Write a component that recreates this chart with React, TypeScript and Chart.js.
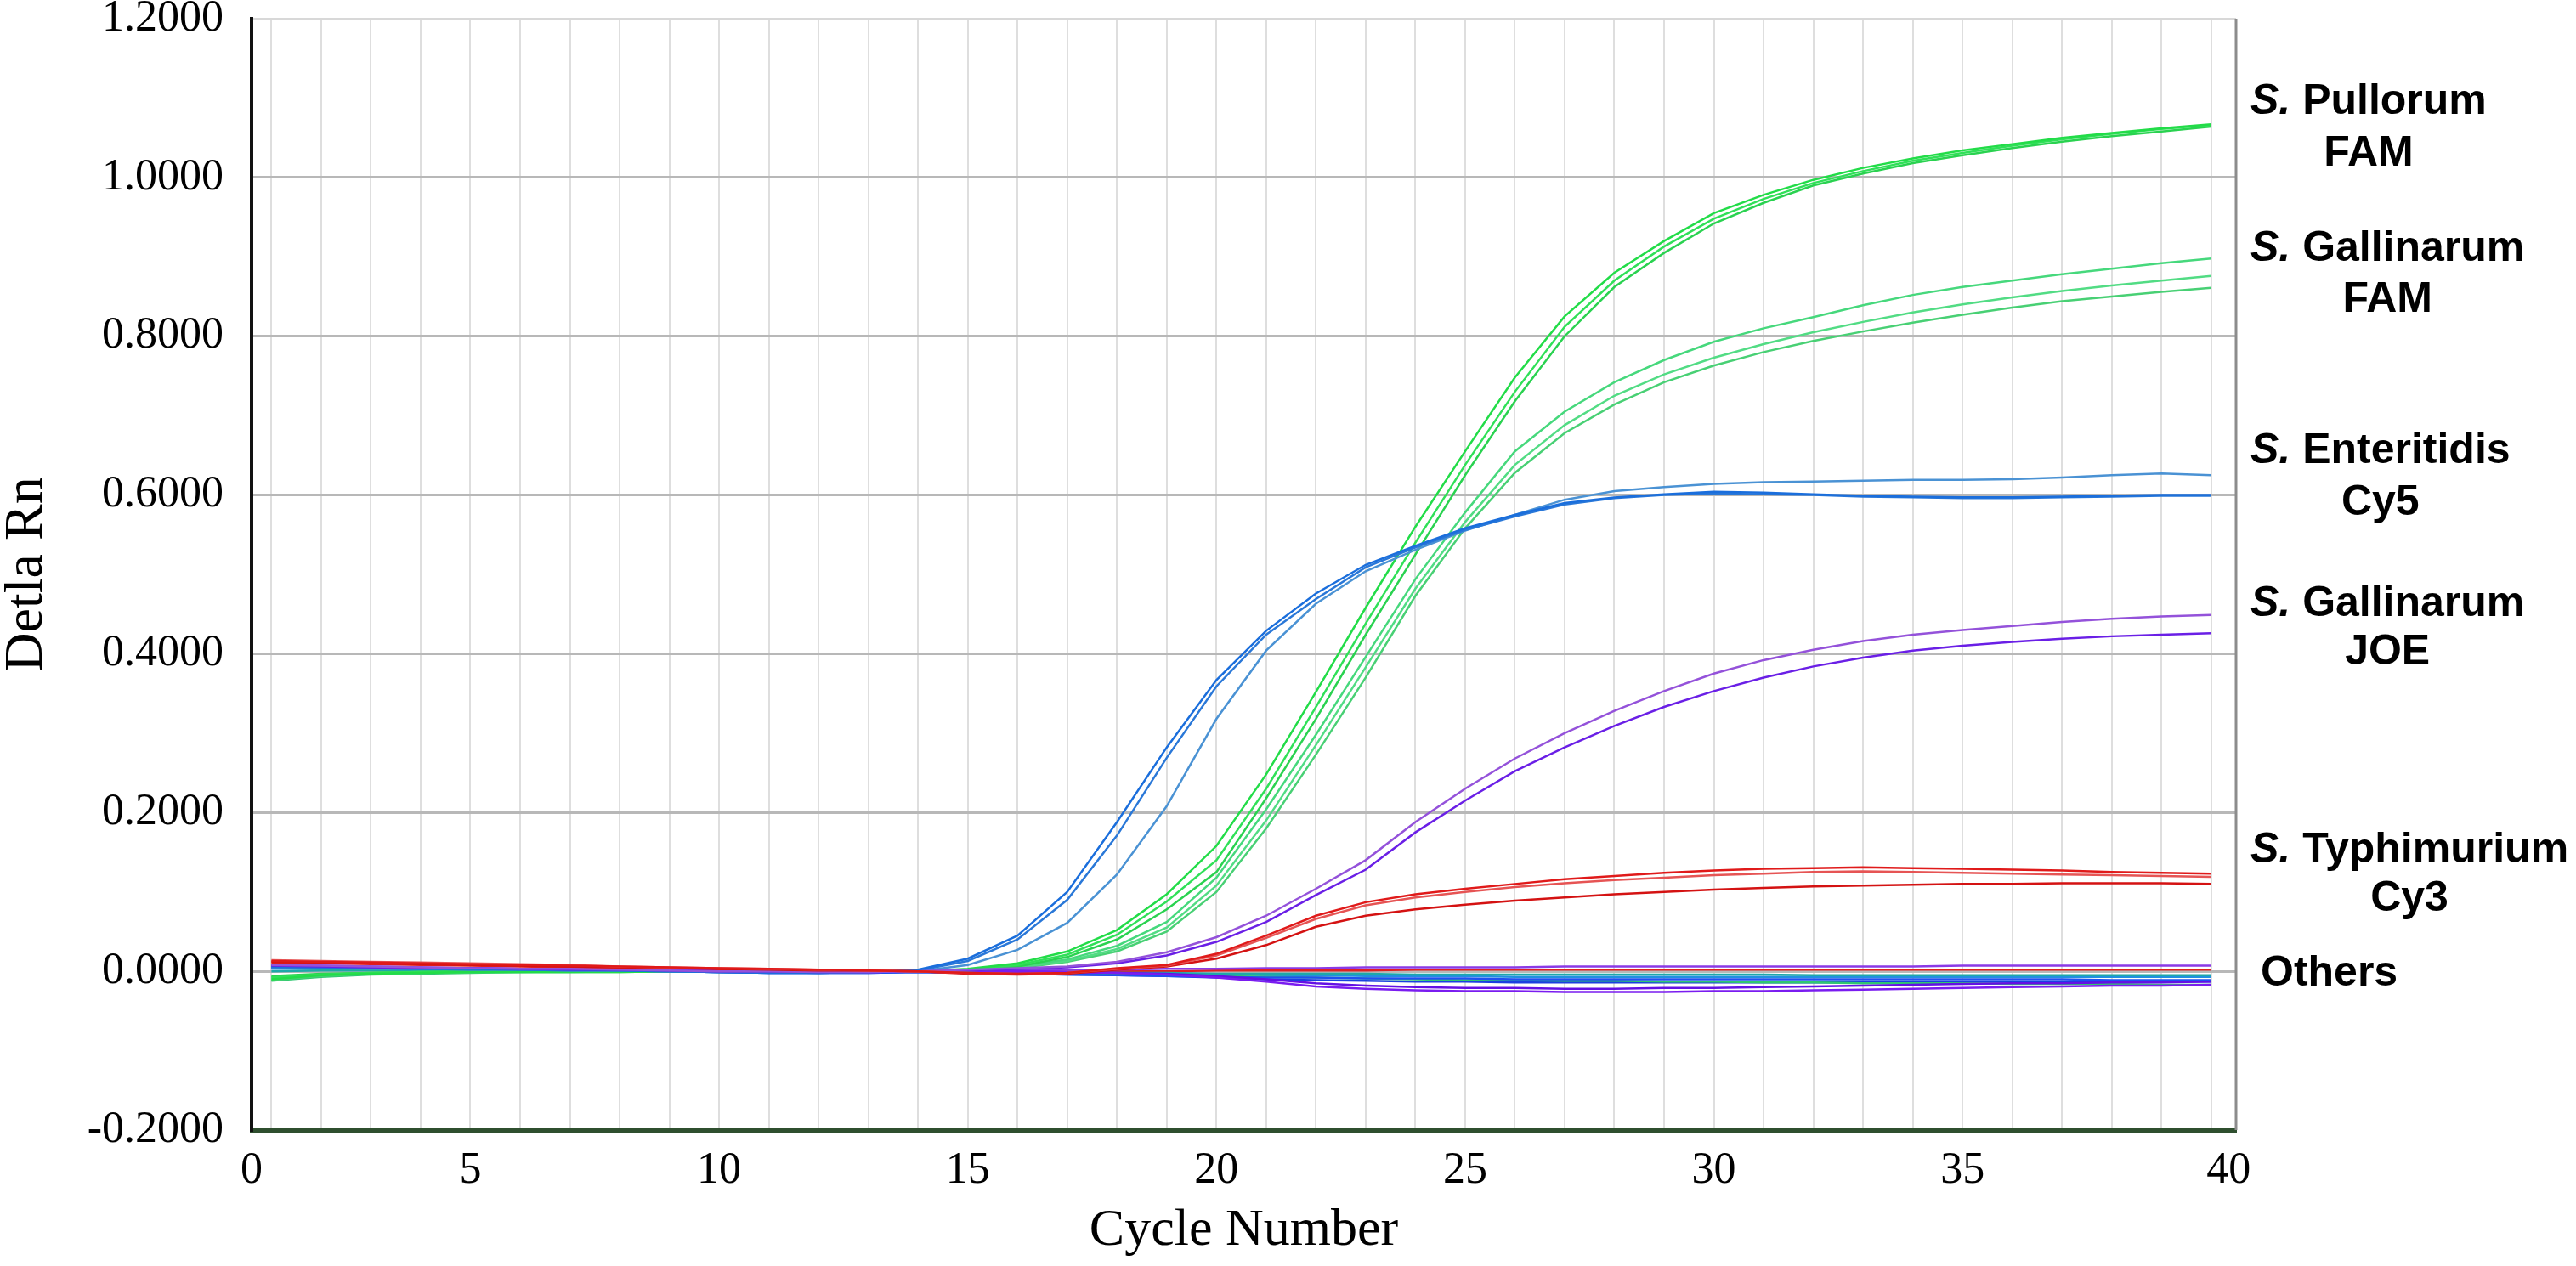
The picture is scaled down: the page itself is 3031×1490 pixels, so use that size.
import React, { useEffect, useRef } from 'react';
import { Chart, registerables } from 'chart.js';

Chart.register(...registerables);

// ---------- data ----------
const cycles = [1, 2, 3, 4, 5, 6, 7, 8, 9, 10, 11, 12, 13, 14, 15, 16, 17, 18, 19, 20,
  21, 22, 23, 24, 25, 26, 27, 28, 29, 30, 31, 32, 33, 34, 35, 36, 37, 38, 39, 40];

// x labels: "0" sits at the axis start, "40" just past the last cycle
const xLabelPos = [0.6, 5, 10, 15, 20, 25, 30, 35, 40.35];
const xLabelText = ['0', '5', '10', '15', '20', '25', '30', '35', '40'];

// S. Pullorum – FAM
const pullorum1 = [-0.010, -0.005, -0.003, -0.002, -0.001, -0.001, -0.001, -0.001, 0.000, 0.000, 0.000, 0.000, 0.000, 0.000, 0.003,
  0.010, 0.025, 0.052, 0.097, 0.158, 0.248, 0.352, 0.458, 0.560, 0.655, 0.748, 0.825, 0.880, 0.920, 0.955, 0.978, 0.997, 1.012, 1.024, 1.034, 1.042, 1.050, 1.056, 1.062, 1.067];
const pullorum2 = [-0.008, -0.004, -0.002, -0.001, -0.001, 0.000, 0.000, 0.000, 0.000, 0.000, 0.000, 0.000, 0.000, 0.000, 0.002,
  0.008, 0.021, 0.046, 0.088, 0.140, 0.230, 0.333, 0.438, 0.540, 0.638, 0.730, 0.812, 0.870, 0.913, 0.948, 0.973, 0.993, 1.008, 1.021, 1.031, 1.040, 1.048, 1.055, 1.061, 1.066];
const pullorum3 = [-0.006, -0.003, -0.002, -0.001, 0.000, 0.000, 0.000, 0.000, 0.000, 0.000, 0.000, 0.000, 0.000, 0.000, 0.002,
  0.006, 0.018, 0.040, 0.078, 0.125, 0.218, 0.318, 0.424, 0.525, 0.625, 0.718, 0.800, 0.862, 0.905, 0.942, 0.968, 0.990, 1.005, 1.018, 1.028, 1.037, 1.045, 1.052, 1.058, 1.064];

// S. Gallinarum – FAM
const gallFam1 = [-0.009, -0.005, -0.003, -0.002, -0.001, -0.001, -0.001, 0.000, 0.000, 0.000, 0.000, 0.000, 0.000, 0.000, 0.002, 0.006,
  0.015, 0.032, 0.062, 0.118, 0.204, 0.298, 0.396, 0.494, 0.578, 0.655, 0.705, 0.742, 0.770, 0.793, 0.810, 0.824, 0.839, 0.852, 0.862, 0.870, 0.878, 0.885, 0.892, 0.898];
const gallFam2 = [-0.007, -0.004, -0.002, -0.001, -0.001, 0.000, 0.000, 0.000, 0.000, 0.000, 0.000, 0.000, 0.000, 0.000, 0.002, 0.005,
  0.013, 0.028, 0.055, 0.108, 0.190, 0.285, 0.383, 0.482, 0.566, 0.638, 0.688, 0.725, 0.752, 0.773, 0.790, 0.805, 0.818, 0.830, 0.840, 0.849, 0.857, 0.864, 0.870, 0.876];
const gallFam3 = [-0.011, -0.006, -0.003, -0.002, -0.001, -0.001, 0.000, 0.000, 0.000, 0.000, 0.000, 0.000, 0.000, 0.000, 0.001, 0.004,
  0.012, 0.025, 0.050, 0.100, 0.180, 0.273, 0.370, 0.473, 0.558, 0.628, 0.678, 0.714, 0.742, 0.763, 0.780, 0.794, 0.806, 0.817, 0.827, 0.836, 0.844, 0.850, 0.856, 0.861];

// S. Enteritidis – Cy5
const enter1 = [0.006, 0.005, 0.004, 0.003, 0.003, 0.002, 0.002, 0.001, 0.000, -0.001, -0.002, -0.002, -0.001,
  0.002, 0.016, 0.045, 0.100, 0.188, 0.282, 0.367, 0.429, 0.476, 0.512, 0.536, 0.558, 0.575, 0.590, 0.597, 0.601, 0.604, 0.603, 0.601, 0.599, 0.598, 0.597, 0.597, 0.598, 0.599, 0.600, 0.600];
const enter2 = [0.005, 0.004, 0.004, 0.003, 0.002, 0.002, 0.001, 0.001, 0.000, -0.001, -0.001, -0.002, -0.001,
  0.001, 0.013, 0.040, 0.090, 0.171, 0.269, 0.359, 0.424, 0.469, 0.509, 0.534, 0.556, 0.573, 0.588, 0.596, 0.600, 0.602, 0.601, 0.600, 0.598, 0.597, 0.596, 0.596, 0.597, 0.598, 0.599, 0.599];
const enter3 = [0.004, 0.004, 0.003, 0.003, 0.002, 0.002, 0.001, 0.001, 0.000, 0.000, -0.001, -0.001, -0.001,
  0.000, 0.008, 0.027, 0.061, 0.122, 0.208, 0.318, 0.404, 0.463, 0.504, 0.531, 0.555, 0.575, 0.594, 0.605, 0.610, 0.614, 0.616, 0.617, 0.618, 0.619, 0.619, 0.620, 0.622, 0.625, 0.627, 0.625];

// S. Gallinarum – JOE
const gallJoe1 = [0.008, 0.007, 0.006, 0.005, 0.004, 0.003, 0.003, 0.002, 0.001, 0.000, 0.000, -0.001, -0.001, 0.000, 0.002, 0.004,
  0.006, 0.012, 0.024, 0.043, 0.070, 0.104, 0.140, 0.188, 0.230, 0.268, 0.300, 0.328, 0.353, 0.375, 0.392, 0.405, 0.416, 0.424, 0.430, 0.435, 0.440, 0.444, 0.447, 0.449];
const gallJoe2 = [0.007, 0.006, 0.005, 0.004, 0.004, 0.003, 0.002, 0.002, 0.001, 0.000, 0.000, -0.001, -0.001, 0.000, 0.001, 0.003,
  0.005, 0.010, 0.020, 0.037, 0.062, 0.096, 0.128, 0.175, 0.215, 0.252, 0.282, 0.309, 0.333, 0.353, 0.370, 0.384, 0.395, 0.404, 0.410, 0.415, 0.419, 0.422, 0.424, 0.426];

// S. Typhimurium – Cy3
const typhi1 = [0.013, 0.012, 0.011, 0.010, 0.009, 0.008, 0.007, 0.006, 0.005, 0.004, 0.003, 0.002, 0.001, 0.000, -0.002, -0.003, -0.002,
  0.004, 0.008, 0.022, 0.045, 0.070, 0.087, 0.097, 0.104, 0.110, 0.116, 0.120, 0.124, 0.127, 0.129, 0.130, 0.131, 0.130, 0.129, 0.128, 0.127, 0.125, 0.124, 0.123];
const typhi2 = [0.014, 0.013, 0.012, 0.011, 0.010, 0.009, 0.008, 0.006, 0.005, 0.004, 0.003, 0.002, 0.001, 0.000, -0.002, -0.003, -0.002,
  0.003, 0.007, 0.020, 0.042, 0.066, 0.083, 0.093, 0.100, 0.106, 0.111, 0.115, 0.118, 0.121, 0.123, 0.125, 0.126, 0.125, 0.124, 0.123, 0.122, 0.121, 0.120, 0.119];
const typhi3 = [0.012, 0.011, 0.010, 0.009, 0.008, 0.007, 0.006, 0.005, 0.004, 0.003, 0.002, 0.001, 0.001, 0.000, -0.003, -0.004, -0.003,
  0.002, 0.006, 0.016, 0.033, 0.056, 0.070, 0.078, 0.084, 0.089, 0.093, 0.097, 0.100, 0.103, 0.105, 0.107, 0.108, 0.109, 0.110, 0.110, 0.111, 0.111, 0.111, 0.110];

// Others (negative samples)
const other1 = [0.008, 0.007, 0.006, 0.005, 0.004, 0.003, 0.002, 0.002, 0.001, 0.000, -0.001, -0.001, -0.001, 0.000,
  0.000, 0.000, -0.001, -0.002, -0.004, -0.008, -0.013, -0.019, -0.022, -0.024, -0.025, -0.025, -0.026, -0.026, -0.026, -0.025, -0.025, -0.024, -0.023, -0.022, -0.021, -0.020, -0.019, -0.018, -0.018, -0.017];
const other2 = [0.006, 0.005, 0.005, 0.004, 0.003, 0.003, 0.002, 0.001, 0.001, 0.000, -0.001, -0.001, -0.001, 0.000,
  0.000, -0.001, -0.001, -0.002, -0.003, -0.006, -0.010, -0.015, -0.018, -0.020, -0.021, -0.021, -0.022, -0.022, -0.021, -0.021, -0.020, -0.019, -0.018, -0.017, -0.016, -0.015, -0.015, -0.014, -0.014, -0.013];
const other3 = [0.007, 0.006, 0.005, 0.004, 0.004, 0.003, 0.002, 0.002, 0.001, 0.000, 0.000, -0.001, -0.001, 0.000,
  0.001, 0.001, 0.002, 0.002, 0.003, 0.003, 0.004, 0.004, 0.005, 0.005, 0.005, 0.005, 0.006, 0.006, 0.006, 0.006, 0.006, 0.006, 0.006, 0.006, 0.007, 0.007, 0.007, 0.007, 0.007, 0.007];
const other4 = [0.005, 0.004, 0.004, 0.003, 0.003, 0.002, 0.001, 0.001, 0.000, -0.001, -0.002, -0.002, -0.002, -0.001,
  -0.002, -0.003, -0.004, -0.005, -0.006, -0.007, -0.008, -0.008, -0.009, -0.009, -0.009, -0.010, -0.010, -0.010, -0.010, -0.010, -0.010, -0.010, -0.010, -0.010, -0.010, -0.010, -0.010, -0.011, -0.011, -0.011];
const other5 = [0.000, 0.001, 0.001, 0.001, 0.001, 0.001, 0.000, 0.000, 0.000, -0.001, -0.001, -0.001, -0.001, 0.000,
  -0.001, -0.001, -0.002, -0.002, -0.002, -0.003, -0.003, -0.003, -0.003, -0.004, -0.004, -0.004, -0.004, -0.004, -0.004, -0.004, -0.004, -0.005, -0.005, -0.005, -0.005, -0.005, -0.005, -0.005, -0.005, -0.005];
const other6 = [-0.012, -0.007, -0.004, -0.003, -0.002, -0.001, -0.001, -0.001, 0.000, 0.000, -0.001, -0.001, -0.001, 0.000,
  -0.001, -0.002, -0.003, -0.004, -0.005, -0.006, -0.007, -0.008, -0.009, -0.010, -0.011, -0.011, -0.012, -0.012, -0.013, -0.013, -0.014, -0.014, -0.015, -0.015, -0.015, -0.016, -0.016, -0.016, -0.017, -0.017];
const other7 = [0.011, 0.010, 0.009, 0.008, 0.007, 0.006, 0.005, 0.004, 0.003, 0.002, 0.001, 0.001, 0.000, 0.000,
  -0.001, -0.001, -0.001, 0.000, 0.000, 0.001, 0.001, 0.001, 0.001, 0.002, 0.002, 0.002, 0.002, 0.002, 0.002, 0.002, 0.002, 0.002, 0.002, 0.002, 0.002, 0.002, 0.002, 0.002, 0.002, 0.002];
const other8 = [0.004, 0.003, 0.003, 0.002, 0.002, 0.001, 0.001, 0.000, 0.000, -0.001, -0.002, -0.002, -0.002, -0.001,
  -0.002, -0.003, -0.004, -0.005, -0.006, -0.008, -0.010, -0.011, -0.012, -0.013, -0.013, -0.014, -0.014, -0.014, -0.014, -0.014, -0.014, -0.014, -0.014, -0.014, -0.013, -0.013, -0.013, -0.013, -0.013, -0.013];
const other9 = [0.003, 0.003, 0.002, 0.002, 0.002, 0.001, 0.001, 0.000, 0.000, -0.001, -0.001, -0.002, -0.001, 0.000,
  -0.001, -0.001, -0.002, -0.002, -0.003, -0.004, -0.005, -0.005, -0.006, -0.006, -0.006, -0.007, -0.007, -0.007, -0.007, -0.007, -0.007, -0.007, -0.007, -0.007, -0.007, -0.007, -0.007, -0.007, -0.007, -0.007];

// right-hand annotations (anchored to y values)
const labelSpecies = ['Pullorum', 'Gallinarum', 'Enteritidis', 'Gallinarum', 'Typhimurium'];
const labelDyes = ['FAM', 'FAM', 'Cy5', 'JOE', 'Cy3'];
const labelNameY = [1.095, 0.91, 0.655, 0.462, 0.152];
const labelDyeY = [1.03, 0.845, 0.59, 0.401, 0.091];
const othersLabel = 'Others';
const othersY = -0.003;

// ---------- styling ----------
const seriesList = [
  { name: 'Typhimurium Cy3 1', data: typhi1, color: '#e01a1a' },
  { name: 'Typhimurium Cy3 2', data: typhi2, color: '#e65454' },
  { name: 'Typhimurium Cy3 3', data: typhi3, color: '#d41212' },
  { name: 'Gallinarum JOE 1', data: gallJoe1, color: '#9452da' },
  { name: 'Gallinarum JOE 2', data: gallJoe2, color: '#6a1fe6' },
  { name: 'Enteritidis Cy5 1', data: enter1, color: '#1a6edc' },
  { name: 'Enteritidis Cy5 2', data: enter2, color: '#2a78d8' },
  { name: 'Enteritidis Cy5 3', data: enter3, color: '#4a92d4' },
  { name: 'Pullorum FAM 1', data: pullorum1, color: '#22dc48' },
  { name: 'Pullorum FAM 2', data: pullorum2, color: '#30e058' },
  { name: 'Pullorum FAM 3', data: pullorum3, color: '#2ad250' },
  { name: 'Gallinarum FAM 1', data: gallFam1, color: '#46d87c' },
  { name: 'Gallinarum FAM 2', data: gallFam2, color: '#52dc84' },
  { name: 'Gallinarum FAM 3', data: gallFam3, color: '#48d074' },
  { name: 'Other 1', data: other1, color: '#7a1cf0' },
  { name: 'Other 2', data: other2, color: '#6410e4' },
  { name: 'Other 3', data: other3, color: '#8a3ae6' },
  { name: 'Other 4', data: other4, color: '#2050f0' },
  { name: 'Other 5', data: other5, color: '#1ea8a8' },
  { name: 'Other 6', data: other6, color: '#30c870' },
  { name: 'Other 7', data: other7, color: '#e02020' },
  { name: 'Other 8', data: other8, color: '#1a40e0' },
  { name: 'Other 9', data: other9, color: '#2090e0' },
];

const SERIF = '"Liberation Serif", "Times New Roman", serif';
const SANS = '"Liberation Sans", Arial, sans-serif';

const sideLabels = {
  id: 'sideLabels',
  afterDraw(chart: any) {
    const { ctx, chartArea, scales } = chart;
    const ys = scales.y;
    const x0 = chartArea.right + 17;
    ctx.save();
    // right frame line
    ctx.strokeStyle = '#8c8c8c';
    ctx.lineWidth = 3;
    ctx.beginPath();
    ctx.moveTo(chartArea.right, chartArea.top);
    ctx.lineTo(chartArea.right, chartArea.bottom);
    ctx.stroke();

    ctx.fillStyle = '#000';
    ctx.textBaseline = 'middle';
    const bold = `bold 50px ${SANS}`;
    const ital = `italic bold 50px ${SANS}`;
    labelSpecies.forEach((sp, i) => {
      ctx.textAlign = 'left';
      ctx.font = ital;
      const w1 = ctx.measureText('S.').width;
      ctx.font = bold;
      const w2 = ctx.measureText(' ' + sp).width;
      const y1 = ys.getPixelForValue(labelNameY[i]);
      ctx.font = ital;
      ctx.fillText('S.', x0, y1);
      ctx.font = bold;
      ctx.fillText(' ' + sp, x0 + w1, y1);
      ctx.textAlign = 'center';
      ctx.fillText(labelDyes[i], x0 + (w1 + w2) / 2, ys.getPixelForValue(labelDyeY[i]));
    });
    ctx.textAlign = 'left';
    ctx.font = bold;
    ctx.fillText(othersLabel, x0 + 12, ys.getPixelForValue(othersY));
    ctx.restore();
  },
};

export default function App() {
  const canvasRef = useRef<HTMLCanvasElement | null>(null);

  useEffect(() => {
    document.body.style.margin = '0';
    const canvas = canvasRef.current;
    if (!canvas) return;

    const datasets = seriesList.map((s) => ({
      label: s.name,
      data: cycles.map((c, i) => ({ x: c, y: s.data[i] })),
      borderColor: s.color,
      backgroundColor: s.color,
      borderWidth: 2.5,
      pointRadius: 0,
      tension: 0,
      fill: false,
    }));

    const tickValues = [...cycles, xLabelPos[0], xLabelPos[xLabelPos.length - 1]].sort((a, b) => a - b);

    const chart = new Chart(canvas, {
      type: 'line',
      data: { datasets },
      plugins: [sideLabels],
      options: {
        animation: false,
        responsive: true,
        maintainAspectRatio: false,
        layout: { padding: { top: 22, right: 400, bottom: 0, left: 0 } },
        plugins: { legend: { display: false }, tooltip: { enabled: false } },
        scales: {
          x: {
            type: 'linear',
            min: 0.6,
            max: 40.5,
            afterBuildTicks: (axis: any) => {
              axis.ticks = tickValues.map((v) => ({ value: v }));
            },
            afterFit: (axis: any) => {
              axis.height = 160;
              axis.paddingLeft = 0;
              axis.paddingRight = 0;
            },
            ticks: {
              autoSkip: false,
              maxRotation: 0,
              minRotation: 0,
              padding: 17,
              color: '#000',
              font: { family: SERIF, size: 52 },
              callback: (v: any) => {
                const idx = xLabelPos.indexOf(Number(v));
                return idx >= 0 ? xLabelText[idx] : '';
              },
            },
            grid: {
              drawTicks: false,
              lineWidth: 2,
              color: (c: any) => (c.tick && Number.isInteger(c.tick.value) ? '#dedede' : 'rgba(0,0,0,0)'),
            },
            border: { color: '#2f4f2f', width: 5 },
            title: {
              display: true,
              text: 'Cycle Number',
              color: '#000',
              font: { family: SERIF, size: 62, lineHeight: 1 },
              padding: { top: 0, bottom: 10 },
            },
          },
          y: {
            min: -0.2,
            max: 1.2,
            afterFit: (axis: any) => {
              axis.width = 296;
              axis.paddingTop = 0;
              axis.paddingBottom = 0;
            },
            ticks: {
              stepSize: 0.2,
              padding: 33,
              color: '#000',
              font: { family: SERIF, size: 52 },
              callback: (v: any) => (Math.abs(Number(v)) < 1e-9 ? 0 : Number(v)).toFixed(4),
            },
            grid: {
              drawTicks: false,
              lineWidth: 3,
              color: (c: any) => (c.tick && c.tick.value > 1.19 ? '#d8d8d8' : '#b8b8b8'),
            },
            border: { color: '#111', width: 4 },
            title: {
              display: true,
              text: 'Detla Rn',
              color: '#000',
              font: { family: SERIF, size: 64, lineHeight: 1 },
              padding: { top: 0, bottom: 0 },
            },
          },
        },
      } as any,
    });

    return () => {
      chart.destroy();
    };
  }, []);

  return (
    <div style={{ width: 3031, height: 1490, position: 'relative' }}>
      <canvas ref={canvasRef} />
    </div>
  );
}
